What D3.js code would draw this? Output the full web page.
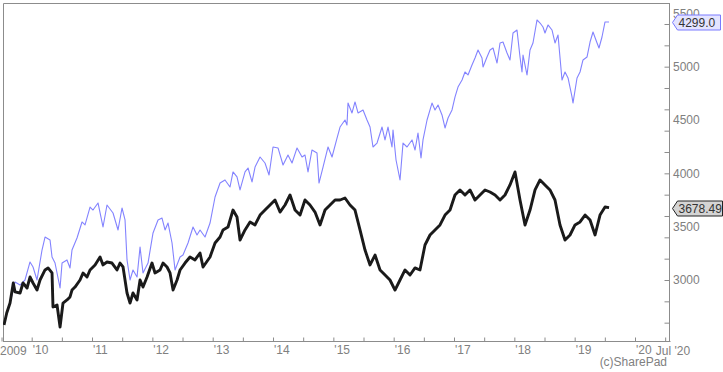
<!DOCTYPE html>
<html>
<head>
<meta charset="utf-8">
<script src="https://cdn.jsdelivr.net/npm/d3@7"></script>
<style>
  body { margin: 0; background: #fff; }
  text { font-family: Arial, "Liberation Sans", sans-serif; }
</style>
</head>
<body>
<script>
// black series: [decimal year, index level]
var blackData = [
  [2009.541,2578],[2009.586,2691],[2009.641,2784],[2009.695,2972],[2009.724,2888],[2009.807,2878],
  [2009.856,2972],[2009.923,2925],[2009.972,3028],[2010.022,2972],[2010.088,2906],[2010.138,3000],
  [2010.221,3094],[2010.271,3113],[2010.337,3066],[2010.353,2747],[2010.420,2766],[2010.470,2559],
  [2010.519,2784],[2010.585,2813],[2010.635,2841],[2010.668,2906],[2010.718,2934],[2010.801,3000],
  [2010.851,3066],[2010.917,3028],[2010.967,3094],[2011.050,3141],[2011.133,3216],[2011.182,3141],
  [2011.248,3169],[2011.331,3159],[2011.414,3094],[2011.464,3159],[2011.514,3122],[2011.580,2878],
  [2011.630,2784],[2011.679,2878],[2011.746,2813],[2011.796,3000],[2011.845,2934],[2011.912,3028],
  [2011.994,3159],[2012.044,3066],[2012.127,3094],[2012.177,3159],[2012.243,3122],[2012.293,3066],
  [2012.343,2906],[2012.409,3000],[2012.459,3094],[2012.541,3159],[2012.624,3216],[2012.707,3188],
  [2012.790,3253],[2012.840,3122],[2012.956,3216],[2013.039,3347],[2013.122,3403],[2013.171,3469],
  [2013.254,3497],[2013.337,3656],[2013.403,3591],[2013.453,3375],[2013.536,3469],[2013.619,3544],
  [2013.702,3516],[2013.785,3609],[2013.867,3656],[2013.950,3703],[2014.033,3750],[2014.116,3637],
  [2014.199,3703],[2014.282,3797],[2014.365,3656],[2014.448,3609],[2014.530,3750],[2014.613,3703],
  [2014.696,3637],[2014.779,3516],[2014.862,3656],[2014.945,3703],[2015.028,3750],[2015.111,3750],
  [2015.193,3769],[2015.276,3703],[2015.359,3656],[2015.442,3469],[2015.525,3281],[2015.608,3141],
  [2015.691,3234],[2015.774,3094],[2015.857,3047],[2015.939,3000],[2016.022,2906],[2016.105,3000],
  [2016.188,3094],[2016.271,3047],[2016.354,3113],[2016.436,3094],[2016.519,3328],[2016.602,3422],
  [2016.685,3469],[2016.768,3516],[2016.851,3609],[2016.934,3656],[2017.016,3797],[2017.099,3844],
  [2017.182,3797],[2017.265,3844],[2017.348,3750],[2017.431,3797],[2017.514,3844],[2017.597,3825],
  [2017.680,3797],[2017.763,3750],[2017.845,3797],[2017.928,3891],[2018.011,4013],[2018.094,3750],
  [2018.177,3516],[2018.260,3656],[2018.343,3844],[2018.426,3938],[2018.508,3891],[2018.591,3844],
  [2018.674,3750],[2018.757,3516],[2018.840,3375],[2018.923,3422],[2019.006,3516],[2019.089,3544],
  [2019.172,3609],[2019.255,3562],[2019.338,3422],[2019.420,3609],[2019.503,3684],[2019.570,3678.49]
];

// blue series, rebased to the black series' starting level
var blueData = [
  [2009.558,2625],[2009.641,2784],[2009.724,2981],[2009.807,2953],[2009.889,3000],[2009.972,3169],
  [2010.022,3122],[2010.088,3000],[2010.171,3281],[2010.221,3403],[2010.304,3375],[2010.337,3216],
  [2010.387,3159],[2010.470,2925],[2010.503,3159],[2010.585,3188],[2010.635,3113],[2010.668,3281],
  [2010.751,3394],[2010.834,3544],[2010.884,3516],[2010.967,3684],[2011.016,3656],[2011.099,3722],
  [2011.182,3497],[2011.248,3703],[2011.348,3628],[2011.431,3469],[2011.497,3675],[2011.547,3563],
  [2011.580,3188],[2011.630,3000],[2011.679,3094],[2011.746,3028],[2011.796,3309],[2011.845,3066],
  [2011.928,3159],[2012.011,3441],[2012.094,3563],[2012.160,3581],[2012.210,3469],[2012.260,3534],
  [2012.326,3347],[2012.376,3094],[2012.459,3216],[2012.508,3234],[2012.591,3347],[2012.674,3497],
  [2012.740,3422],[2012.790,3469],[2012.873,3403],[2012.956,3534],[2013.039,3778],[2013.122,3909],
  [2013.204,3938],[2013.287,3872],[2013.337,4013],[2013.403,3966],[2013.453,3844],[2013.536,4013],
  [2013.586,4050],[2013.652,3919],[2013.702,4059],[2013.785,4153],[2013.867,4097],[2013.934,3984],
  [2014.000,4247],[2014.083,4238],[2014.166,4078],[2014.248,4172],[2014.315,4097],[2014.398,4238],
  [2014.481,4153],[2014.530,4172],[2014.580,4013],[2014.646,4219],[2014.729,4191],[2014.762,3909],
  [2014.829,4059],[2014.912,4247],[2014.978,4153],[2015.061,4331],[2015.111,4434],[2015.193,4500],
  [2015.226,4453],[2015.243,4659],[2015.309,4566],[2015.359,4669],[2015.409,4566],[2015.492,4594],
  [2015.558,4500],[2015.608,4434],[2015.657,4247],[2015.724,4284],[2015.807,4434],[2015.856,4313],
  [2015.906,4434],[2015.972,4247],[2015.989,4406],[2016.039,4125],[2016.105,3938],[2016.155,4284],
  [2016.221,4247],[2016.304,4313],[2016.354,4219],[2016.403,4378],[2016.453,4144],[2016.486,4313],
  [2016.553,4500],[2016.635,4659],[2016.685,4594],[2016.735,4641],[2016.801,4547],[2016.851,4425],
  [2016.901,4519],[2016.967,4594],[2017.017,4716],[2017.066,4809],[2017.133,4875],[2017.182,4950],
  [2017.232,4922],[2017.298,5016],[2017.348,5081],[2017.398,5156],[2017.464,5081],[2017.481,4997],
  [2017.547,5091],[2017.597,5156],[2017.647,5175],[2017.713,5034],[2017.763,5222],[2017.812,5231],
  [2017.879,5128],[2017.928,5063],[2017.978,5316],[2018.044,5344],[2018.094,5091],[2018.127,4950],
  [2018.144,5109],[2018.210,4922],[2018.260,5156],[2018.309,5222],[2018.376,5438],[2018.426,5409],
  [2018.475,5372],[2018.508,5316],[2018.558,5391],[2018.624,5344],[2018.674,5222],[2018.724,5297],
  [2018.790,4875],[2018.840,4950],[2018.890,4894],[2018.956,4716],[2018.972,4659],[2019.039,4894],
  [2019.089,4950],[2019.138,5063],[2019.205,5091],[2019.255,5231],[2019.304,5325],[2019.371,5222],
  [2019.403,5175],[2019.453,5278],[2019.503,5419],[2019.570,5419]
];

var blackLast = "3678.49";
var blueLast = "4299.0";

var halfYearTicks = d3.range(2009.5, 2020.6, 0.5);   // year labels on whole years
var yLabelTicks = [3000, 3500, 4000, 4500, 5000, 5500];
var yMinorTicks = d3.range(2600, 5600, 200);

(function(){
var width = 723, height = 372;
var plotLeft = 3, plotTop = 3, plotRight = 670, plotBottom = 341;
var gridColor = "#8c8c8c";
var textColor = "#808080";

var svg = d3.select("body").append("svg")
    .attr("width", width)
    .attr("height", height);

var x = d3.scaleLinear().domain([2010, 2020]).range([31.7, 635]);
var y = d3.scaleLinear().domain([3000, 5500]).range([280, 13.33]);

svg.append("defs").append("clipPath").attr("id", "plot")
  .append("rect")
    .attr("x", plotLeft).attr("y", plotTop)
    .attr("width", plotRight - plotLeft).attr("height", plotBottom - plotTop);

// frame
svg.append("path")
    .attr("d", "M" + (plotLeft + 0.5) + "," + plotBottom + "V" + (plotTop + 0.5) + "H" + plotRight)
    .attr("fill", "none")
    .attr("stroke", gridColor);

var line = d3.line()
    .x(function(d){ return x(d[0]); })
    .y(function(d){ return y(d[1]); });

var plot = svg.append("g").attr("clip-path", "url(#plot)");

plot.append("path")
    .datum(blueData)
    .attr("fill", "none")
    .attr("stroke", "#8383ff")
    .attr("stroke-width", 1.1)
    .attr("stroke-linejoin", "round")
    .attr("d", line);

plot.append("path")
    .datum(blackData)
    .attr("fill", "none")
    .attr("stroke", "#1a1a1a")
    .attr("stroke-width", 2.9)
    .attr("stroke-linejoin", "round")
    .attr("d", line);

// bottom axis
var xAxis = svg.append("g")
    .attr("transform", "translate(0," + (plotBottom + 0.5) + ")")
    .call(d3.axisBottom(x)
        .tickValues(halfYearTicks)
        .tickSize(-4)
        .tickSizeOuter(0)
        .tickFormat(function(d){
            if (Math.abs(d - Math.round(d)) > 0.01) return "";
            return "'" + String(Math.round(d)).slice(2);
        }));
xAxis.select(".domain").attr("stroke", gridColor).attr("d", "M" + plotLeft + ",0H" + (plotRight + 0.5));
xAxis.selectAll(".tick line").attr("stroke", gridColor);
xAxis.selectAll(".tick text")
    .attr("fill", textColor)
    .attr("font-size", 12)
    .attr("text-anchor", "start")
    .attr("dx", 0.5)
    .attr("y", 4)
    .attr("dy", "0.71em");

svg.append("text")
    .attr("x", 0).attr("y", plotBottom + 13.5)
    .attr("fill", textColor).attr("font-size", 12)
    .text("2009");
svg.append("text")
    .attr("x", 673).attr("y", plotBottom + 13.5)
    .attr("text-anchor", "middle")
    .attr("fill", textColor).attr("font-size", 12)
    .text("Jul '20");
svg.append("text")
    .attr("x", 667).attr("y", 366)
    .attr("text-anchor", "end")
    .attr("fill", textColor).attr("font-size", 12)
    .text("(c)SharePad");

// right axis
var yAxis = svg.append("g")
    .attr("transform", "translate(" + (plotRight - 0.5) + ",0)")
    .call(d3.axisRight(y).tickValues(yMinorTicks).tickSize(-5).tickSizeOuter(0).tickFormat(""));
yAxis.select(".domain").attr("stroke", gridColor).attr("d", "M0," + plotTop + "V" + plotBottom);
yAxis.selectAll(".tick line").attr("stroke", gridColor);

var yLabels = svg.append("g")
    .attr("transform", "translate(" + (plotRight + 2) + ",0)")
    .call(d3.axisRight(y).tickValues(yLabelTicks).tickSize(0).tickPadding(1).tickFormat(d3.format("d")));
yLabels.select(".domain").remove();
yLabels.selectAll(".tick text").attr("fill", textColor).attr("font-size", 12);

// last-value markers
function marker(value, text, fill, stroke, w) {
    var cy = Math.round(y(value)) + 0.5;
    var g = svg.append("g").attr("transform", "translate(" + (plotRight + 2.5) + "," + cy + ")");
    g.append("path")
        .attr("d", "M0,0L5,-7.5H" + w + "V7.5H5Z")
        .attr("fill", fill)
        .attr("stroke", stroke);
    g.append("text")
        .attr("x", 6).attr("y", 0).attr("dy", "0.35em")
        .attr("font-size", 12)
        .attr("fill", "#333")
        .text(text);
}
marker(blueData[blueData.length - 1][1], blueLast, "#e4e4ff", "#7a7aff", 48);
marker(blackData[blackData.length - 1][1], blackLast, "#d4d4d4", "#222", 50);
})();
</script>
</body>
</html>
